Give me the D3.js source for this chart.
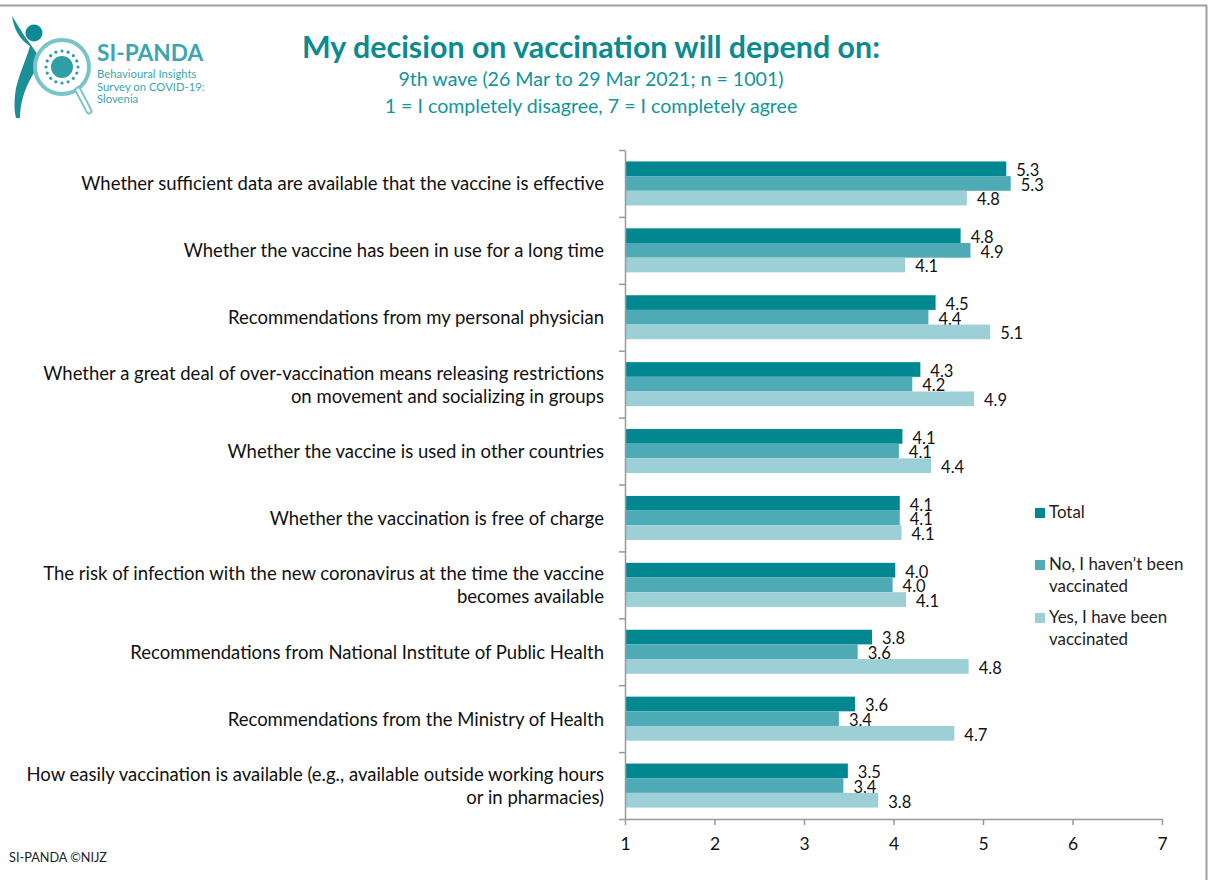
<!DOCTYPE html>
<html><head><meta charset="utf-8">
<script src="https://cdn.jsdelivr.net/npm/d3@7"></script>
<style>
body{margin:0;background:#fff;}
svg{display:block;font-family:Lato, "Open Sans", sans-serif;}
</style></head>
<body>
<svg id="c" width="1208" height="880"></svg>
<script>
const categories = [
  ["Whether sufficient data are available that the vaccine is effective"],
  ["Whether the vaccine has been in use for a long time"],
  ["Recommendations from my personal physician"],
  ["Whether a great deal of over-vaccination means releasing restrictions","on movement and socializing in groups"],
  ["Whether the vaccine is used in other countries"],
  ["Whether the vaccination is free of charge"],
  ["The risk of infection with the new coronavirus at the time the vaccine","becomes available"],
  ["Recommendations from National Institute of Public Health"],
  ["Recommendations from the Ministry of Health"],
  ["How easily vaccination is available (e.g., available outside working hours","or in pharmacies)"]
];
const seriesNames = [["Total"],["No, I haven\u2019t been","vaccinated"],["Yes, I have been","vaccinated"]];
const totalValues = [5.26,4.75,4.47,4.30,4.10,4.07,4.02,3.76,3.57,3.49];
const notVaccValues = [5.31,4.86,4.39,4.21,4.06,4.07,3.99,3.60,3.39,3.44];
const vaccValues = [4.82,4.13,5.08,4.90,4.42,4.09,4.14,4.84,4.68,3.83];
const xTicks = [1,2,3,4,5,6,7];
const colors = ["#008790","#4eabb5","#9dd0d6"];
const series = [totalValues, notVaccValues, vaccValues];

const svg = d3.select("#c");
// frame
svg.append("line").attr("x1",0).attr("x2",1207).attr("y1",5.5).attr("y2",5.5).attr("stroke","#a0a0a0").attr("stroke-width",2);
svg.append("line").attr("x1",1206.5).attr("x2",1206.5).attr("y1",5).attr("y2",880).attr("stroke","#a0a0a0").attr("stroke-width",2);

// logo
const lg = svg.append("g");
lg.append("path").attr("d","M12,16 C14,30 20,40 30,46 C26,60 20,72 16,88 C14,100 14,110 16,118 L20,118 C20,104 24,90 32,76 L36,70 L40,60 C36,50 28,42 22,32 Z").attr("fill","#1b8f98");
lg.append("circle").attr("cx",34).attr("cy",33).attr("r",8.5).attr("fill","#0e8a93");
lg.append("circle").attr("cx",62).attr("cy",67).attr("r",27).attr("fill","#fff").attr("stroke","#79c4c9").attr("stroke-width",4);
lg.append("line").attr("x1",78).attr("y1",90).attr("x2",89).attr("y2",111).attr("stroke","#79c4c9").attr("stroke-width",7).attr("stroke-linecap","round");
lg.append("line").attr("x1",78).attr("y1",90).attr("x2",89).attr("y2",111).attr("stroke","#fff").attr("stroke-width",3).attr("stroke-linecap","round");
lg.append("circle").attr("cx",62).attr("cy",67).attr("r",11).attr("fill","#2f9ea6");
for(let i=0;i<16;i++){const a=i*Math.PI/8;lg.append("circle").attr("cx",62+16*Math.cos(a)).attr("cy",67+16*Math.sin(a)).attr("r",1.6).attr("fill","#2f9ea6");}
lg.append("text").attr("x",97).attr("y",61).attr("font-size",22.7).attr("font-weight","bold").attr("fill","#3aa7b0").text("SI-PANDA");
["Behavioural Insights","Survey on COVID-19:","Slovenia"].forEach((t,i)=>lg.append("text").attr("x",97).attr("y",78+i*12.5).attr("font-size",11.3).attr("fill","#3aa7b0").text(t));

// titles
svg.append("text").attr("x",591).attr("y",58).attr("text-anchor","middle").attr("font-size",30.4).attr("font-weight","bold").attr("fill","#0b8a90").text("My decision on vaccination will depend on:");
svg.append("text").attr("x",591).attr("y",86).attr("text-anchor","middle").attr("font-size",19.6).attr("fill","#12959b").text("9th wave (26 Mar to 29 Mar 2021; n = 1001)");
svg.append("text").attr("x",591).attr("y",113).attr("text-anchor","middle").attr("font-size",19.6).attr("fill","#12959b").text("1 = I completely disagree, 7 = I completely agree");

// scales
const x = d3.scaleLinear().domain([1,7]).range([625,1162]);
const y = d3.scaleBand().domain(d3.range(categories.length)).range([150,819]).paddingInner(0).paddingOuter(0);
const inner = d3.scaleBand().domain([0,1,2]).range([0,y.bandwidth()]).paddingInner(0).paddingOuter(0.78);

// bars
const g = svg.append("g");
categories.forEach((c,i)=>{
  series.forEach((s,j)=>{
    const yy = y(i)+inner(j);
    g.append("rect").attr("x",x(1)).attr("y",yy).attr("width",x(s[i])-x(1)).attr("height",inner.bandwidth()).attr("fill",colors[j]);
    g.append("text").attr("x",x(s[i])+10).attr("y",yy+inner.bandwidth()).attr("font-size",16.5).attr("fill","#111").text(d3.format(".1f")(s[i]));
  });
  const lines = c;
  const cy = y(i)+y.bandwidth()/2;
  lines.forEach((t,k)=>{
    g.append("text").attr("x",604).attr("y",cy+7+(k-(lines.length-1)/2)*23).attr("text-anchor","end").attr("font-size",18.5).attr("fill","#111").text(t);
  });
});

// axes
const xAxis = d3.axisBottom(x).tickValues(xTicks).tickFormat(d3.format("d")).tickSize(6).tickSizeOuter(0);
const xa = svg.append("g").attr("transform","translate(0,819)").call(xAxis);
xa.select(".domain").attr("stroke","#999").attr("stroke-width",1.5);
xa.selectAll(".tick line").attr("stroke","#999").attr("stroke-width",1.5);
xa.selectAll(".tick text").attr("font-size",17.5).attr("fill","#111").attr("dy","1.25em").attr("font-family","Lato, sans-serif");

const yEdge = d3.scaleLinear().domain([0,categories.length]).range([150,819]);
const ya = svg.append("g").attr("transform","translate(625,0)").call(d3.axisLeft(yEdge).tickValues(d3.range(categories.length+1)).tickFormat("").tickSize(6).tickSizeOuter(0));
ya.select(".domain").attr("stroke","#999").attr("stroke-width",1.5);
ya.selectAll(".tick line").attr("stroke","#999").attr("stroke-width",1.5);

// legend
const leg = svg.append("g");
const legY = [518,570,623];
seriesNames.forEach((n,j)=>{
  leg.append("rect").attr("x",1035).attr("y",legY[j]-10).attr("width",10).attr("height",10).attr("fill",colors[j]);
  n.forEach((t,k)=>leg.append("text").attr("x",1049).attr("y",legY[j]+k*22).attr("font-size",16.9).attr("fill","#222").text(t));
});

svg.append("text").attr("x",9).attr("y",862).attr("font-size",12.7).attr("fill","#222").text("SI-PANDA \u00A9NIJZ");
</script>
</body></html>
